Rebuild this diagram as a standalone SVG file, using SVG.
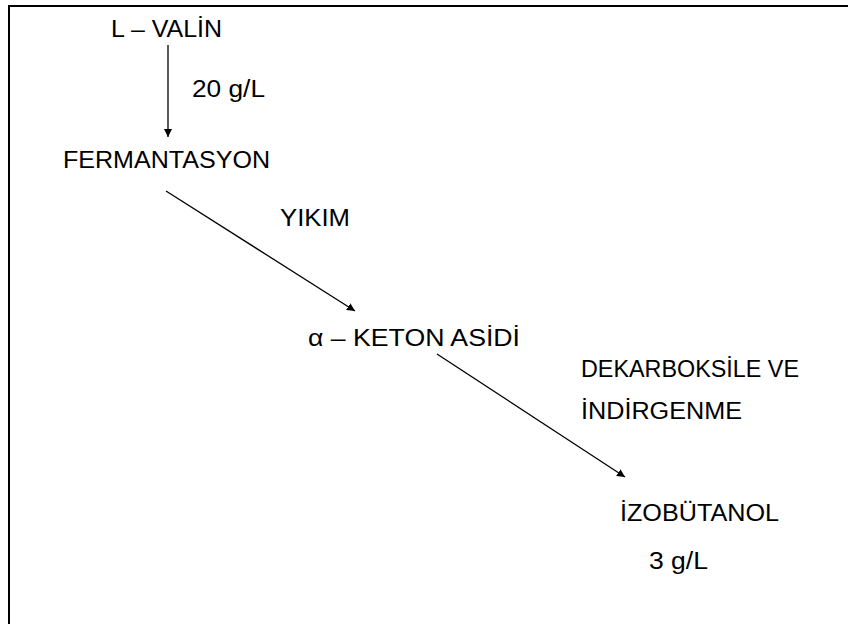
<svg xmlns="http://www.w3.org/2000/svg" width="848" height="624" viewBox="0 0 848 624">
<style>
  text { font-family: "Liberation Sans", Arial, sans-serif; font-size: 23.5px; fill: #000; }
  .conn { stroke: #000; stroke-width: 1.3; fill: none; marker-end: url(#ah); }
  .frame { stroke: #000; stroke-width: 2; fill: none; }
</style>
<defs>
  <marker id="ah" viewBox="0 0 10 10" refX="10" refY="5" markerWidth="8" markerHeight="8" markerUnits="userSpaceOnUse" orient="auto">
    <path d="M0,0 L10,5 L0,10 Z" fill="#000"/>
  </marker>
</defs>
<rect width="848" height="624" fill="#fff"/>
<path class="frame" d="M9,624 V6 H848"/>
<g id="connectors">
  <line class="conn" x1="168" y1="45" x2="168" y2="137"/>
  <line class="conn" x1="166" y1="191" x2="355" y2="311"/>
  <line class="conn" x1="437" y1="354" x2="625" y2="477"/>
</g>
<g id="n-valin"><text x="111" y="37" textLength="111" lengthAdjust="spacingAndGlyphs">L – VALİN</text></g>
<g id="l-20"><text x="192" y="97" textLength="73" lengthAdjust="spacingAndGlyphs">20 g/L</text></g>
<g id="n-ferm"><text x="63" y="168" textLength="207" lengthAdjust="spacingAndGlyphs">FERMANTASYON</text></g>
<g id="l-yikim"><text x="280" y="226" textLength="70" lengthAdjust="spacingAndGlyphs">YIKIM</text></g>
<g id="n-keton"><text x="308" y="346" textLength="212" lengthAdjust="spacingAndGlyphs">α – KETON ASİDİ</text></g>
<g id="l-dekarb">
  <text x="581" y="377" textLength="218" lengthAdjust="spacingAndGlyphs">DEKARBOKSİLE VE</text>
  <text x="581" y="419" textLength="161" lengthAdjust="spacingAndGlyphs">İNDİRGENME</text>
</g>
<g id="n-izobutanol"><text x="620" y="521" textLength="159" lengthAdjust="spacingAndGlyphs">İZOBÜTANOL</text></g>
<g id="l-3"><text x="649" y="569" textLength="59" lengthAdjust="spacingAndGlyphs">3 g/L</text></g>
</svg>
